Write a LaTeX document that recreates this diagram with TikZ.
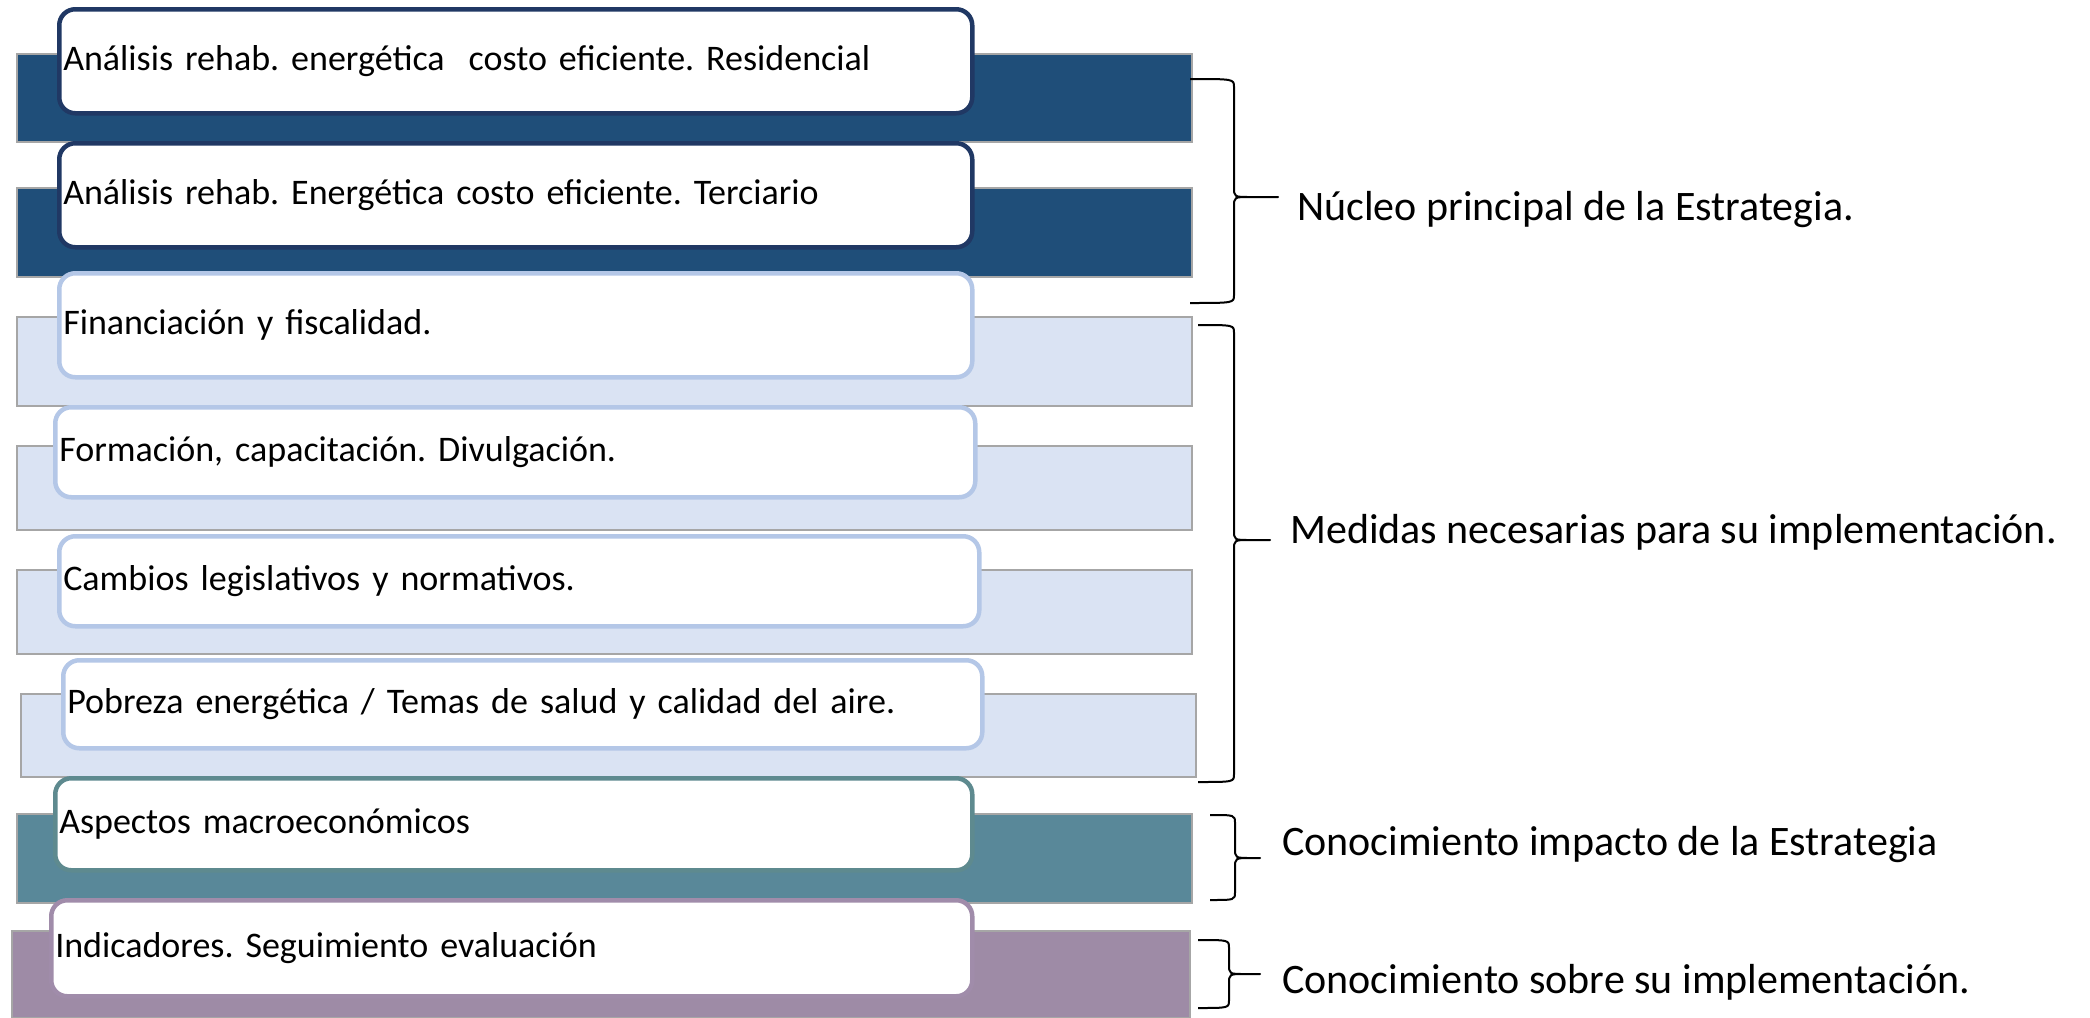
\documentclass[tikz,border=0pt]{standalone}
\usepackage{fontspec}
\setmainfont{Carlito}
\usetikzlibrary{calc}
\definecolor{barDark}{RGB}{31,78,121}
\definecolor{boxDark}{RGB}{32,56,100}
\definecolor{barLight}{RGB}{218,227,243}
\definecolor{boxLight}{RGB}{180,199,231}
\definecolor{barTeal}{RGB}{89,136,153}
\definecolor{boxTeal}{RGB}{94,138,143}
\definecolor{barLila}{RGB}{158,139,166}
\definecolor{boxLila}{RGB}{160,140,170}
\definecolor{barEdge}{RGB}{166,166,166}
\frenchspacing

% llave: #1 extremo de arriba, #2 extremo de abajo, #3 punta
\newcommand{\llave}[3]{%
  \draw[curly] let \p1=(#1), \p2=(#2), \p3=(#3), \n1={0.5*(\x1+\x3)} in
    (\p1) .. controls (\n1,\y1) .. (\n1,\y1-8pt)
    -- (\n1,\y3+10pt) .. controls (\n1,\y3) .. (\n1+16pt,\y3) -- (\p3)
    -- (\n1+16pt,\y3) .. controls (\n1,\y3) .. (\n1,\y3-10pt)
    -- (\n1,\y2+8pt) .. controls (\n1,\y2) .. (\p2);}

\begin{document}
\begin{tikzpicture}[x=1pt,y=-1pt,
    bar/.style={draw=barEdge,line width=1.5pt,fill=#1,anchor=north west,inner sep=0pt},
    item/.style={draw=#1,line width=4.5pt,fill=white,rounded corners=16pt,anchor=north west,
        inner xsep=4pt,inner ysep=0pt,align=left,font=\fontsize{36}{42}\selectfont},
    lbl/.style={anchor=west,inner sep=0pt,font=\fontsize{42}{50}\selectfont},
    curly/.style={line width=2pt,line join=round}]
	\useasboundingbox (0,0) rectangle (2090,1017);

	% bloques de la izquierda
	\node[bar=barDark,minimum width=1175pt,minimum height=88pt] (bar1) at (16,53) {};
	\node[item=boxDark,text width=905pt,minimum height=104pt] (res) at (57,7) {Análisis rehab. energética \ costo eficiente. Residencial};
	\node[bar=barDark,minimum width=1175pt,minimum height=89pt] (bar2) at (16,187) {};
	\node[item=boxDark,text width=905pt,minimum height=104pt] (ter) at (57,141) {Análisis rehab. Energética costo eficiente. Terciario};
	\node[bar=barLight,minimum width=1175pt,minimum height=89pt] (bar3) at (16,316) {};
	\node[item=boxLight,text width=905pt,minimum height=104pt] (fin) at (57,271) {Financiación y fiscalidad.};
	\node[bar=barLight,minimum width=1175pt,minimum height=84pt] (bar4) at (16,445) {};
	\node[item=boxLight,text width=912pt,minimum height=90pt] (form) at (53,405) {Formación, capacitación. Divulgación.};
	\node[bar=barLight,minimum width=1175pt,minimum height=84pt] (bar5) at (16,569) {};
	\node[item=boxLight,text width=912pt,minimum height=90pt] (leg) at (57,534) {Cambios legislativos y normativos.};
	\node[bar=barLight,minimum width=1175pt,minimum height=83pt] (bar6) at (20,693) {};
	\node[item=boxLight,text width=911pt,minimum height=88pt] (pob) at (61,658) {Pobreza energética / Temas de salud y calidad del aire.};
	\node[bar=barTeal,minimum width=1175pt,minimum height=89pt] (bar7) at (16,813) {};
	\node[item=boxTeal,text width=909pt,minimum height=92pt] (mac) at (53,776) {Aspectos macroeconómicos};
	\node[bar=barLila,minimum width=1178pt,minimum height=87pt] (bar8) at (11,930) {};
	\node[item=boxLila,text width=913pt,minimum height=96pt] (ind) at (49,898) {Indicadores. Seguimiento evaluación};

	% llaves
	\coordinate (n1) at (1190,79);  \coordinate (n2) at (1190,303);  \coordinate (nt) at (1278,197);
	\coordinate (m1) at (1198,325); \coordinate (m2) at (1198,782);  \coordinate (mt) at (1270,540);
	\coordinate (c1) at (1210,815); \coordinate (c2) at (1210,900);  \coordinate (ct) at (1260,858);
	\coordinate (s1) at (1198,940); \coordinate (s2) at (1198,1008); \coordinate (st) at (1260,974);
	\llave{n1}{n2}{nt}
	\llave{m1}{m2}{mt}
	\llave{c1}{c2}{ct}
	\llave{s1}{s2}{st}

	\node[lbl] (nucleo) at (1297,210) {Núcleo principal de la Estrategia.};
	\node[lbl] (medidas) at (1290,532) {Medidas necesarias para su implementación.};
	\node[lbl] (impacto) at (1282,845) {Conocimiento impacto de la Estrategia};
	\node[lbl] (sobre) at (1282,982) {Conocimiento sobre su implementación.};
\end{tikzpicture}
\end{document}
